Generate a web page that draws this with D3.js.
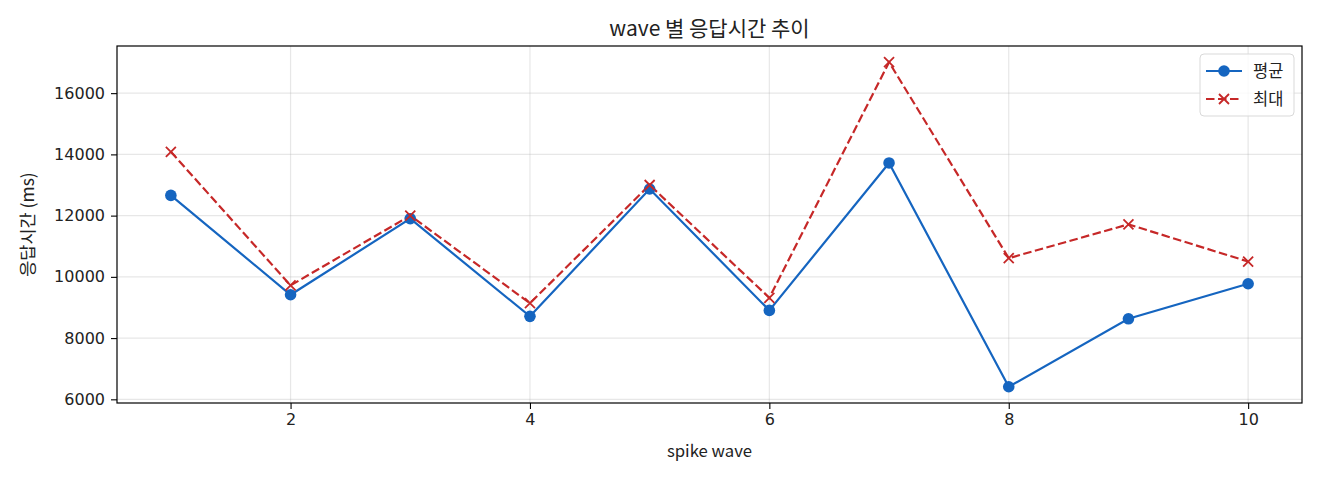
<!DOCTYPE html>
<html>
<head>
<meta charset="utf-8">
<title>wave 별 응답시간 추이</title>
<script src="https://d3js.org/d3.v7.min.js"></script>
<style>
  body { margin: 0; background: #fff; }
  text { font-family: "Noto Sans CJK KR", "Noto Sans", sans-serif; fill: #222; }
  .tick text { font-family: "DejaVu Sans", sans-serif; }
</style>
</head>
<body>
<div id="chart"></div>
<script>
// data
const waves = [1, 2, 3, 4, 5, 6, 7, 8, 9, 10];
const avgMs = [12660, 9415, 11900, 8710, 12870, 8905, 13720, 6410, 8630, 9775];
const maxMs = [14085, 9720, 12000, 9140, 13000, 9315, 17010, 10610, 11715, 10500];
const xTicks = [2, 4, 6, 8, 10];
const yTicks = [6000, 8000, 10000, 12000, 14000, 16000];

const W = 1320, H = 480;
const margin = {top: 46, right: 18, bottom: 77, left: 117};
const w = W - margin.left - margin.right;
const h = H - margin.top - margin.bottom;

const svg = d3.select("#chart").append("svg")
    .attr("width", W).attr("height", H);

const g = svg.append("g")
    .attr("transform", "translate(" + margin.left + "," + margin.top + ")");

// matplotlib style 5% padding
const xPad = (d3.max(waves) - d3.min(waves)) * 0.05;
const x = d3.scaleLinear()
    .domain([d3.min(waves) - xPad, d3.max(waves) + xPad])
    .range([0, w]);

const yMin = d3.min(avgMs.concat(maxMs)), yMax = d3.max(avgMs.concat(maxMs));
const yPad = (yMax - yMin) * 0.05;
const y = d3.scaleLinear()
    .domain([yMin - yPad, yMax + yPad])
    .range([h, 0]);

// grid
g.append("g").selectAll("line").data(yTicks).join("line")
    .attr("x1", 0).attr("x2", w)
    .attr("y1", d => y(d)).attr("y2", d => y(d))
    .attr("stroke", "#b0b0b0").attr("stroke-opacity", 0.3).attr("stroke-width", 1.2);
g.append("g").selectAll("line").data(xTicks).join("line")
    .attr("y1", 0).attr("y2", h)
    .attr("x1", d => x(d)).attr("x2", d => x(d))
    .attr("stroke", "#b0b0b0").attr("stroke-opacity", 0.3).attr("stroke-width", 1.2);

// axes
const xAxis = g.append("g")
    .attr("transform", "translate(0," + h + ")")
    .call(d3.axisBottom(x).tickValues(xTicks).tickFormat(d3.format("d"))
        .tickSizeOuter(0).tickSize(6).tickPadding(5));
const yAxis = g.append("g")
    .call(d3.axisLeft(y).tickValues(yTicks).tickFormat(d3.format("d"))
        .tickSizeOuter(0).tickSize(6).tickPadding(6));
[xAxis, yAxis].forEach(a => {
    a.select(".domain").remove();
    a.selectAll("line").attr("stroke", "#000").attr("stroke-width", 1.1);
    a.selectAll("text").attr("font-size", "16px").attr("fill", "#222");
});

// frame
g.append("rect")
    .attr("width", w).attr("height", h)
    .attr("fill", "none").attr("stroke", "#000").attr("stroke-width", 1.2);

// lines
const blue = "#1565c0", red = "#c62828";
const line = vals => d3.line()
    .x((d, i) => x(waves[i]))
    .y(d => y(d))(vals);

g.append("path").attr("d", line(avgMs))
    .attr("fill", "none").attr("stroke", blue).attr("stroke-width", 2.2);
g.append("path").attr("d", line(maxMs))
    .attr("fill", "none").attr("stroke", red).attr("stroke-width", 2.2)
    .attr("stroke-dasharray", "8.5,3.5");

g.selectAll(".dot").data(avgMs).join("circle")
    .attr("class", "dot")
    .attr("cx", (d, i) => x(waves[i])).attr("cy", d => y(d))
    .attr("r", 5.8).attr("fill", blue);

const cross = "M-5,-5L5,5M-5,5L5,-5";
g.selectAll(".xm").data(maxMs).join("path")
    .attr("class", "xm")
    .attr("d", cross)
    .attr("transform", (d, i) => "translate(" + x(waves[i]) + "," + y(d) + ")")
    .attr("fill", "none").attr("stroke", red).attr("stroke-width", 1.8);

// title and axis labels
svg.append("text")
    .attr("x", margin.left + w / 2).attr("y", 36)
    .attr("text-anchor", "middle").attr("font-size", "21px")
    .text("wave 별 응답시간 추이");

svg.append("text")
    .attr("x", margin.left + w / 2).attr("y", 457)
    .attr("text-anchor", "middle").attr("font-size", "16.7px")
    .text("spike wave");

svg.append("text")
    .attr("transform", "translate(34," + (margin.top + h / 2) + ") rotate(-90)")
    .attr("text-anchor", "middle").attr("font-size", "17.5px")
    .text("응답시간 (ms)");

// legend
const lg = svg.append("g").attr("transform", "translate(1200,54)");
lg.append("rect")
    .attr("width", 94).attr("height", 62).attr("rx", 4)
    .attr("fill", "#fff").attr("fill-opacity", 0.8)
    .attr("stroke", "#d9d9d9").attr("stroke-width", 1);
const items = [
    {name: "평균", color: blue, dash: null, mark: "dot"},
    {name: "최대", color: red, dash: "8.5,3.5", mark: "x"}
];
items.forEach((it, i) => {
    const yy = 17 + i * 28;
    lg.append("line").attr("x1", 6).attr("x2", 42).attr("y1", yy).attr("y2", yy)
        .attr("stroke", it.color).attr("stroke-width", 2.2)
        .attr("stroke-dasharray", it.dash);
    if (it.mark === "dot") {
        lg.append("circle").attr("cx", 24).attr("cy", yy).attr("r", 5.8).attr("fill", it.color);
    } else {
        lg.append("path").attr("d", cross)
            .attr("transform", "translate(24," + yy + ")")
            .attr("fill", "none").attr("stroke", it.color).attr("stroke-width", 1.8);
    }
    lg.append("text").attr("x", 53).attr("y", yy + 6)
        .attr("font-size", "16.5px").text(it.name);
});
</script>
</body>
</html>
